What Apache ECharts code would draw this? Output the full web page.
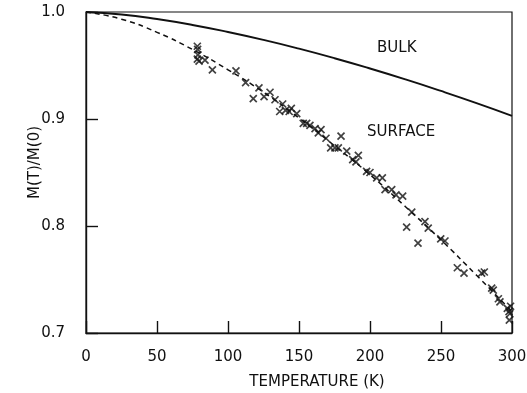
<!DOCTYPE html>
<html>
<head>
<meta charset="utf-8">
<script src="https://cdn.jsdelivr.net/npm/echarts@6/dist/echarts.min.js"></script>
<style>
  html, body { margin: 0; padding: 0; background: #fff; }
  #chart { width: 527px; height: 393px; }
</style>
</head>
<body>
<div id="chart"></div>
<script>
// Reduced magnetization M(T)/M(0) versus temperature

// Tick labels
const xTicks = [0, 50, 100, 150, 200, 250, 300];
const yTicks = [0.7, 0.8, 0.9, 1.0];

// Bulk magnetization (solid curve)
const bulkT = [0, 25, 50, 75, 100, 125, 150, 175, 200, 225, 250, 275, 300];
const bulkM = [1.0, 0.9977, 0.9934, 0.9879, 0.9813, 0.9739, 0.9657, 0.9568, 0.9472, 0.9370, 0.9262, 0.9149, 0.9030];

// Surface fit (dashed curve)
const surfT = [0, 25, 50, 75, 100, 125, 150, 175, 200, 225, 250, 275, 300];
const surfM = [1.0, 0.9933, 0.981, 0.965, 0.946, 0.925, 0.901, 0.875, 0.848, 0.818, 0.787, 0.754, 0.720];

// Measured surface magnetization (crosses)
const measT = [78.4, 78.6, 78.8, 78.4, 79.6, 83.8, 89.0, 105.6, 112.4, 117.8,
  121.8, 125.4, 129.6, 133.1, 138.5, 136.4, 140.5, 144.6, 143.1, 148.4,
  153.0, 155.4, 157.7, 161.3, 165.5, 163.6, 169.0, 179.6, 172.3, 175.3,
  177.7, 183.6, 187.8, 191.8, 190.1, 197.6, 200.0, 204.7, 208.7, 210.6,
  215.3, 218.3, 223.0, 229.4, 225.8, 238.7, 241.0, 233.8, 249.8, 252.8,
  261.5, 266.2, 278.6, 280.5, 285.7, 286.8, 290.4, 291.5, 296.7, 297.9,
  298.1, 299.0, 298.5];
const measM = [0.968, 0.965, 0.960, 0.956, 0.954, 0.955, 0.946, 0.945, 0.934, 0.919,
  0.929, 0.921, 0.925, 0.918, 0.914, 0.907, 0.908, 0.910, 0.907, 0.905,
  0.896, 0.896, 0.894, 0.891, 0.890, 0.887, 0.882, 0.884, 0.873, 0.873,
  0.873, 0.870, 0.862, 0.866, 0.860, 0.851, 0.850, 0.845, 0.845, 0.834,
  0.834, 0.829, 0.828, 0.813, 0.799, 0.804, 0.798, 0.784, 0.788, 0.786,
  0.761, 0.756, 0.756, 0.757, 0.742, 0.740, 0.732, 0.729, 0.723, 0.720,
  0.712, 0.725, 0.718];

const zip = (a, b) => a.map((v, i) => [v, b[i]]);
const FONT = 'DejaVu Sans';
const INK = '#111';

const chart = echarts.init(document.getElementById('chart'), null, { renderer: 'canvas' });

chart.setOption({
  backgroundColor: '#fff',
  animation: false,
  grid: {
    left: 86, right: 15, top: 12, bottom: 60,
    outerBoundsMode: 'none',
    containLabel: false,
    show: true, borderColor: INK, borderWidth: 1.2
  },
  xAxis: {
    type: 'value',
    min: xTicks[0], max: xTicks[xTicks.length - 1], interval: 50,
    name: 'TEMPERATURE (K)',
    nameLocation: 'middle',
    nameGap: 42,
    nameMoveOverlap: false,
    nameTextStyle: { fontFamily: FONT, fontSize: 15, color: INK, padding: [0, 0, 0, 36] },
    axisLine: { lineStyle: { color: INK, width: 1.4 } },
    axisTick: { inside: true, length: 12, lineStyle: { color: INK, width: 1.4 } },
    axisLabel: { margin: 17, fontFamily: FONT, fontSize: 15, color: INK },
    splitLine: { show: false }
  },
  yAxis: {
    type: 'value',
    min: yTicks[0], max: yTicks[yTicks.length - 1], interval: 0.1,
    name: 'M(T)/M(0)',
    nameLocation: 'middle',
    nameRotate: 90,
    nameGap: 43,
    nameMoveOverlap: false,
    nameTextStyle: { fontFamily: FONT, fontSize: 15, color: INK, padding: [0, 0, 0, 20] },
    axisLine: { lineStyle: { color: INK, width: 1.4 } },
    axisTick: { inside: true, length: 12, lineStyle: { color: INK, width: 1.4 } },
    axisLabel: {
      margin: 21, fontFamily: FONT, fontSize: 15, color: INK,
      formatter: v => v.toFixed(1)
    },
    splitLine: { show: false }
  },
  graphic: [
    { type: 'text', left: 377, top: 41,
      style: { text: 'BULK', font: '15px "DejaVu Sans"', fill: INK } },
    { type: 'text', left: 367, top: 125,
      style: { text: 'SURFACE', font: '15px "DejaVu Sans"', fill: INK } }
  ],
  series: [
    {
      name: 'bulk', type: 'line', smooth: true, symbol: 'none',
      data: zip(bulkT, bulkM),
      lineStyle: { color: INK, width: 1.9 }
    },
    {
      name: 'surface', type: 'line', smooth: true, symbol: 'none',
      data: zip(surfT, surfM),
      lineStyle: { color: INK, width: 1.5, type: [5, 4] }
    },
    {
      name: 'measured', type: 'scatter',
      data: zip(measT, measM),
      symbol: 'path://M0,0L10,10M10,0L0,10',
      symbolSize: 7,
      itemStyle: { color: 'rgba(0,0,0,0)', borderColor: INK, borderWidth: 1.7 }
    }
  ]
});
</script>
</body>
</html>
